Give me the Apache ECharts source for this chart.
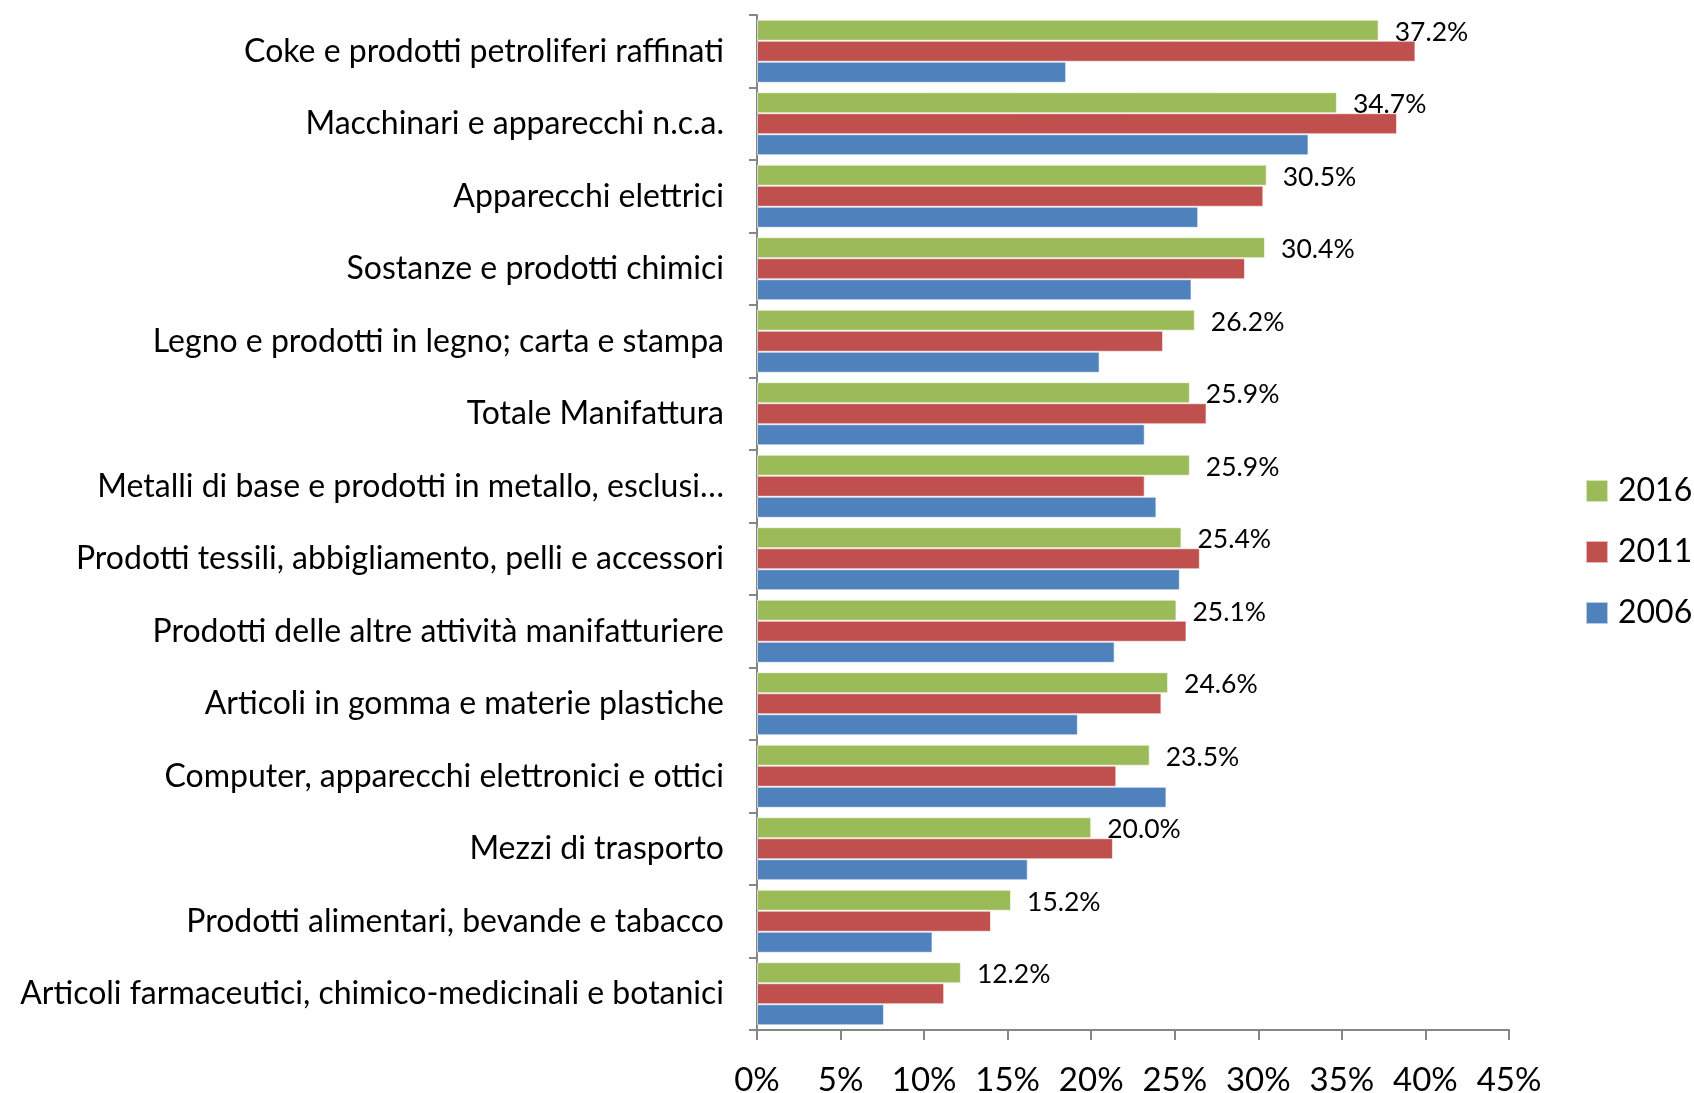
<!DOCTYPE html>
<html>
<head>
<meta charset="utf-8">
<script src="https://cdn.jsdelivr.net/npm/echarts@6/dist/echarts.min.js"></script>
<style>
  html, body { margin: 0; padding: 0; background: #fff; }
  #chart { width: 1694px; height: 1093px; }
</style>
</head>
<body>
<div id="chart"></div>
<script>
var categories = [
    'Coke e prodotti petroliferi raffinati',
    'Macchinari e apparecchi n.c.a.',
    'Apparecchi elettrici',
    'Sostanze e prodotti chimici',
    'Legno e prodotti in legno; carta e stampa',
    'Totale Manifattura',
    'Metalli di base e prodotti in metallo, esclusi…',
    'Prodotti tessili, abbigliamento, pelli e accessori',
    'Prodotti delle altre attività manifatturiere',
    'Articoli in gomma e materie plastiche',
    'Computer, apparecchi elettronici e ottici',
    'Mezzi di trasporto',
    'Prodotti alimentari, bevande e tabacco',
    'Articoli farmaceutici, chimico-medicinali e botanici'
];
var values2016 = [37.2, 34.7, 30.5, 30.4, 26.2, 25.9, 25.9, 25.4, 25.1, 24.6, 23.5, 20.0, 15.2, 12.2];
var values2011 = [39.4, 38.3, 30.3, 29.2, 24.3, 26.9, 23.2, 26.5, 25.7, 24.2, 21.5, 21.3, 14.0, 11.2];
var values2006 = [18.5, 33.0, 26.4, 26.0, 20.5, 23.2, 23.9, 25.3, 21.4, 19.2, 24.5, 16.2, 10.5, 7.6];
var xTicks = [0, 5, 10, 15, 20, 25, 30, 35, 40, 45];

var fontFam = 'Lato, "Open Sans", sans-serif';

function barSeries(name, data, color, withLabel) {
    return {
        name: name,
        type: 'bar',
        data: data,
        barGap: '0%',
        barCategoryGap: '13%',
        itemStyle: {
            color: color,
            borderColor: 'rgba(255,255,255,0.6)',
            borderWidth: 1
        },
        label: {
            show: withLabel,
            position: 'right',
            distance: 16,
            offset: [0, 2],
            color: '#000',
            fontFamily: fontFam,
            fontSize: 26.5,
            formatter: function (p) { return p.value.toFixed(1) + '%'; }
        }
    };
}

var myChart = echarts.init(document.getElementById('chart'));
var option = {
    animation: false,
    backgroundColor: '#fff',
    grid: {
        left: 757,
        right: 185,
        top: 15,
        bottom: 63,
        containLabel: false,
        outerBoundsMode: 'none'
    },
    legend: {
        orient: 'vertical',
        left: 1585,
        top: 475,
        padding: 0,
        itemWidth: 22,
        itemHeight: 22,
        itemGap: 29,
        icon: 'rect',
        data: ['2016', '2011', '2006'],
        textStyle: { fontFamily: fontFam, fontSize: 32, color: '#000', padding: [0, 0, 0, 5] }
    },
    xAxis: {
        type: 'value',
        min: 0,
        max: 45,
        interval: 5,
        splitLine: { show: false },
        axisLine: { show: true, lineStyle: { color: '#868686', width: 2 } },
        axisTick: { show: true, length: 10, lineStyle: { color: '#868686', width: 2 } },
        axisLabel: {
            margin: 34,
            color: '#000',
            fontFamily: fontFam,
            fontSize: 33,
            formatter: function (v) { return xTicks.indexOf(v) >= 0 ? v + '%' : ''; }
        }
    },
    yAxis: {
        type: 'category',
        inverse: true,
        data: categories,
        axisLine: { show: true, lineStyle: { color: '#868686', width: 2 } },
        axisTick: { show: true, length: 8, lineStyle: { color: '#868686', width: 2 } },
        axisLabel: {
            margin: 33,
            color: '#000',
            fontFamily: fontFam,
            fontSize: 32
        }
    },
    series: [
        barSeries('2016', values2016, '#9BBB59', true),
        barSeries('2011', values2011, '#C0504D', false),
        barSeries('2006', values2006, '#4F81BD', false)
    ]
};
myChart.setOption(option);
</script>
</body>
</html>
